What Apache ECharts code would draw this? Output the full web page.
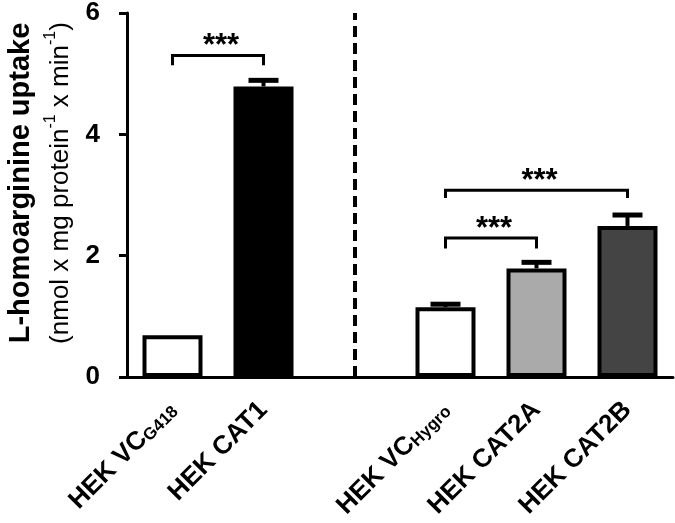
<!DOCTYPE html>
<html>
<head>
<meta charset="utf-8">
<script src="https://cdn.jsdelivr.net/npm/echarts@6/dist/echarts.min.js"></script>
<style>
  html, body { margin: 0; padding: 0; background: #fff; }
  #chart { width: 675px; height: 523px; }
</style>
</head>
<body>
<div id="chart"></div>
<script>
const groups = ['HEK VC', 'HEK CAT1', '', 'HEK VC', 'HEK CAT2A', 'HEK CAT2B'];
const subscripts = ['G418', '', '', 'Hygro', '', ''];
const uptake = [0.69, 4.79, '-', 1.15, 1.79, 2.49];
const sem = [0, 0.1, 0, 0.05, 0.1, 0.18];
const barColors = ['#ffffff', '#000000', '#ffffff', '#ffffff', '#aaaaaa', '#444444'];
const yTicks = [0, 2, 4, 6];
// significance brackets: from bar, to bar, bracket height, leg end
const brackets = [[0, 1, 5.3, 5.14], [3, 4, 2.29, 2.12], [3, 5, 3.08, 2.95]];
const dividerAt = 2;

const FONT = 'Liberation Sans, Arial, sans-serif';

const chart = echarts.init(document.getElementById('chart'));

const option = {
  animation: false,
  grid: { left: 127, right: 2, top: 13, bottom: 146, containLabel: false, outerBoundsMode: 'none' },
  xAxis: {
    type: 'category',
    data: groups,
    axisLine: { lineStyle: { color: '#000', width: 3 } },
    axisTick: { alignWithLabel: true, length: 9, lineStyle: { color: '#000', width: 3 } },
    axisLabel: {
      interval: 0,
      rotate: 45,
      margin: 29,
      formatter: (v, i) => subscripts[i] ? `{n|${v}}{sub|${subscripts[i]}}` : `{n|${v}}`,
      rich: {
        n: { fontSize: 26, fontWeight: 'bold', fontFamily: FONT, color: '#000' },
        sub: { fontSize: 17, fontWeight: 'bold', fontFamily: FONT, color: '#000', verticalAlign: 'bottom', padding: [9, 0, 0, 0] }
      }
    }
  },
  yAxis: {
    type: 'value',
    min: yTicks[0],
    max: yTicks[yTicks.length - 1],
    interval: 2,
    splitLine: { show: false },
    axisLine: { show: true, lineStyle: { color: '#000', width: 3 } },
    axisTick: { show: true, length: 8, lineStyle: { color: '#000', width: 3 } },
    axisLabel: { margin: 27, fontSize: 26, fontWeight: 'bold', fontFamily: FONT, color: '#000' },
    name: '{t|L-homoarginine uptake}\n{s|(nmol x mg protein}{sup|-1}{s| x min}{sup|-1}{s|)}',
    nameLocation: 'middle',
    nameRotate: 90,
    nameGap: 48,
    nameTextStyle: {
      padding: [0, 0, 0, 24],
      rich: {
        t: { fontSize: 29, fontWeight: 'bold', fontFamily: FONT, color: '#000', lineHeight: 44 },
        s: { fontSize: 26, fontFamily: FONT, color: '#000', lineHeight: 36 },
        sup: { fontSize: 16, fontFamily: FONT, color: '#000', lineHeight: 36, verticalAlign: 'top' }
      }
    }
  },
  series: [
    {
      type: 'bar',
      barWidth: 60,
      data: uptake.map((v, i) => ({ value: v, itemStyle: { color: barColors[i] } })),
      itemStyle: { borderColor: '#000', borderWidth: 4 },
      markLine: {
        silent: true,
        symbol: 'none',
        label: { show: false },
        lineStyle: { color: '#000', width: 4, type: [11, 6] },
        data: [{ xAxis: dividerAt }]
      }
    },
    {
      type: 'custom',
      clip: false,
      data: uptake.map((v, i) => [i, v === '-' ? 0 : v, sem[i]]),
      renderItem: (params, api) => {
        const i = api.value(0), m = api.value(1), e = api.value(2);
        if (!e) return;
        const base = api.coord([i, m]);
        const top = api.coord([i, m + e]);
        return {
          type: 'group',
          children: [
            { type: 'line', shape: { x1: base[0], y1: base[1], x2: top[0], y2: top[1] }, style: { stroke: '#000', lineWidth: 4 } },
            { type: 'line', shape: { x1: top[0] - 15, y1: top[1], x2: top[0] + 15, y2: top[1] }, style: { stroke: '#000', lineWidth: 5 } }
          ]
        };
      }
    },
    {
      type: 'custom',
      clip: false,
      data: brackets,
      renderItem: (params, api) => {
        const a = api.coord([api.value(0), api.value(2)]);
        const b = api.coord([api.value(1), api.value(2)]);
        const leg = api.coord([api.value(0), api.value(3)])[1];
        return {
          type: 'group',
          children: [
            {
              type: 'polyline',
              shape: { points: [[a[0], leg], [a[0], a[1]], [b[0], a[1]], [b[0], leg]] },
              style: { stroke: '#000', lineWidth: 3, fill: null }
            },
            {
              type: 'text',
              x: (a[0] + b[0]) / 2 + 3,
              y: a[1] - 9,
              style: { text: '***', fontSize: 31, fontWeight: 'bold', fontFamily: FONT, fill: '#000', align: 'center', verticalAlign: 'middle' }
            }
          ]
        };
      }
    }
  ]
};

chart.setOption(option);
</script>
</body>
</html>
